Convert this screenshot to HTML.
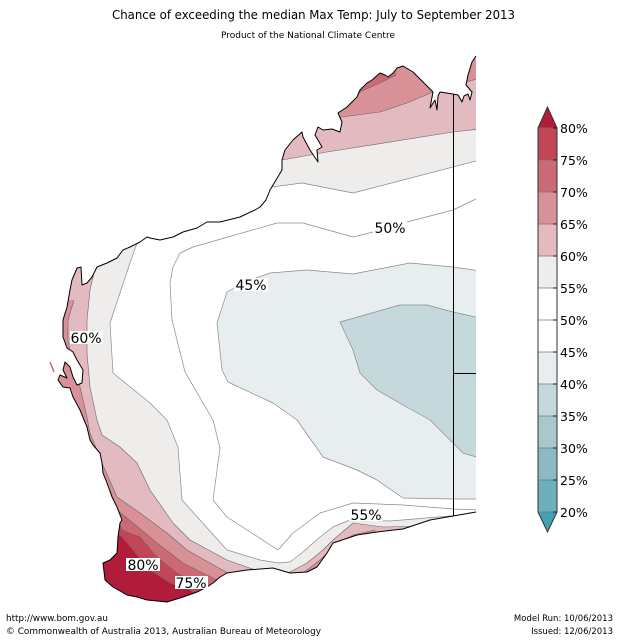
<!DOCTYPE html>
<html><head><meta charset="utf-8"><style>
html,body{margin:0;padding:0;background:#fff;}
svg{display:block;}
text{font-family:"DejaVu Sans","Liberation Sans",sans-serif;fill:#000;}
</style></head><body>
<svg width="619" height="640" viewBox="0 0 619 640" xmlns="http://www.w3.org/2000/svg">
<defs>
<clipPath id="land"><polygon points="476,56 472,62 468,75 466,85 472,92 470,100 468,94 464,96 462,102 458,95 453,94 440,92 438,96 437,110 435,100 430,108 433,92 423,82 413,72 403,66 397,68 393,73 388,77 385,75 380,73 372,80 367,83 360,90 357,97 352,102 347,107 338,113 342,122 340,132 332,129 323,130 318,127 315,135 322,147 317,150 318,162 310,150 303,137 302,132 293,140 285,150 282,160 282,170 276,180 270,190 266,200 260,207 255,210 240,217 220,222 207,222 197,228 183,232 173,237 160,240 150,238 147,237 140,242 130,247 123,250 117,258 107,263 97,267 92,277 87,283 82,285 81,267 77,268 72,280 70,290 67,307 63,320 63,337 67,348 73,352 77,360 83,370 82,383 77,385 73,377 70,367 65,362 63,370 67,378 60,375 58,380 63,387 70,388 73,397 80,410 87,427 90,440 93,445 100,453 102,463 103,473 107,483 112,497 117,507 122,520 120,523 118,537 117,553 110,560 103,563 105,580 113,587 127,595 137,597 147,600 167,602 183,597 197,592 207,587 213,583 220,577 227,573 247,570 273,568 290,573 307,572 317,567 327,553 333,543 357,535 377,532 403,529 430,520 453,516 476,512"/></clipPath>
</defs>

<g clip-path="url(#land)">
<rect x="0" y="0" width="476" height="640" fill="#ffffff"/>
<polygon fill="#eeedeb" points="262,188 272,187 302,183 353,193 480,160 480,40 262,40"/>
<polygon fill="#eeedeb" points="0,243 137,243 130,263 120,293 110,323 113,373 150,403 167,420 178,447 182,500 227,550 260,560 278,563 290,562 303,552 320,537 333,527 350,520 390,521 450,516 480,514 480,640 0,640"/>
<polygon fill="#e2babf" points="270,163 282,160 310,155 327,152 453,132 480,129 480,40 270,40"/>
<polygon fill="#e2babf" points="0,255 100,255 95,268 90,290 87,320 87,353 90,387 97,420 102,435 120,447 137,463 150,490 173,523 190,540 227,560 255,570 255,640 0,640"/>
<polygon fill="#e2babf" points="288,640 288,574 290,572 307,563 323,550 333,540 353,523 383,527 430,526 453,517 480,514 480,640"/>
<polygon fill="#d79197" points="335,118 342,117 380,112 407,103 433,92 450,88 463,83 480,78 480,40 335,40"/>
<polygon fill="#d79197" points="0,300 74,300 68,320 68,340 70,350 75,362 80,387 87,417 90,433 102,463 117,497 140,513 167,533 187,550 217,567 232,575 232,640 0,640"/>
<polygon fill="#d79197" points="300,640 300,574 303,573 320,560 333,547 353,535 375,530 385,545 385,640"/>
<polygon fill="#cb6a74" points="352,97 362,91 380,83 396,75 400,40 352,40"/>
<polygon fill="#cb6a74" points="0,490 110,490 117,510 133,523 157,543 183,563 203,573 217,580 225,585 225,640 0,640"/>
<polygon fill="#c34656" points="0,520 118,520 122,530 140,537 157,557 177,573 190,580 200,587 205,640 0,640"/>
<polygon fill="#b11c3a" points="0,535 119,535 122,537 133,550 150,570 170,583 190,590 197,595 200,640 0,640"/>
<polygon fill="#e8eef0" points="245,282 227,292 217,323 222,370 228,382 273,403 297,420 323,457 357,470 377,480 403,498 453,499 480,499 480,271 453,267 410,263 353,274 307,270 270,273"/>
<polygon fill="#c5d9dc" points="340,322 353,350 360,373 377,390 403,405 430,420 453,443 463,453 480,458 480,318 453,312 427,305 400,305"/>

<g fill="none" stroke-linejoin="round">
<g stroke="#8a8a8a" stroke-width="0.7">
<polyline points="480,510 453,509 403,505 353,503 320,513 293,533 278,550 227,517 213,500 220,448 213,420 185,372 172,320 170,283 173,267 180,253 193,247 277,223 303,223 353,237 373,232 407,222 453,210 480,197"/>
<polyline points="245,282 227,292 217,323 222,370 228,382 273,403 297,420 323,457 357,470 377,480 403,498 453,499 480,499"/>
<polyline points="245,282 270,273 307,270 353,274 410,263 453,267 480,271"/>
<polyline points="480,458 463,453 453,443 430,420 403,405 377,390 360,373 353,350 340,322 400,305 427,305 453,312 480,318"/>
<polyline points="262,188 272,187 302,183 353,193 480,160"/>
<polyline points="137,243 130,263 120,293 110,323 113,373 150,403 167,420 178,447 182,500 227,550 260,560 278,563 290,562 303,552 320,537 333,527 350,520 390,521 450,516 480,514"/>
</g>
<g stroke="#666" stroke-width="0.6">
<polyline points="270,163 282,160 310,155 327,152 453,132 480,129"/>
<polyline points="100,255 95,268 90,290 87,320 87,353 90,387 97,420 102,435 120,447 137,463 150,490 173,523 190,540 227,560 255,570"/>
<polyline points="288,574 290,572 307,563 323,550 333,540 353,523 383,527 430,526 453,517 480,514"/>
<polyline points="335,118 342,117 380,112 407,103 433,92 450,88 463,83 480,78"/>
<polyline points="74,300 68,320 68,340 70,350 75,362 80,387 87,417 90,433 102,463 117,497 140,513 167,533 187,550 217,567 232,575"/>
<polyline points="300,574 303,573 320,560 333,547 353,535 375,530"/>
<polyline points="352,97 362,91 380,83 396,75"/>
<polyline points="110,490 117,510 133,523 157,543 183,563 203,573 217,580 225,585"/>
<polyline points="118,520 122,530 140,537 157,557 177,573 190,580 200,587"/>
<polyline points="119,535 122,537 133,550 150,570 170,583 190,590 197,595"/>
</g>
</g>
</g>

<!-- coastline (open, no right-edge stroke) -->
<polyline fill="none" stroke="#000" stroke-width="1" stroke-linejoin="round" points="476,56 472,62 468,75 466,85 472,92 470,100 468,94 464,96 462,102 458,95 453,94 440,92 438,96 437,110 435,100 430,108 433,92 423,82 413,72 403,66 397,68 393,73 388,77 385,75 380,73 372,80 367,83 360,90 357,97 352,102 347,107 338,113 342,122 340,132 332,129 323,130 318,127 315,135 322,147 317,150 318,162 310,150 303,137 302,132 293,140 285,150 282,160 282,170 276,180 270,190 266,200 260,207 255,210 240,217 220,222 207,222 197,228 183,232 173,237 160,240 150,238 147,237 140,242 130,247 123,250 117,258 107,263 97,267 92,277 87,283 82,285 81,267 77,268 72,280 70,290 67,307 63,320 63,337 67,348 73,352 77,360 83,370 82,383 77,385 73,377 70,367 65,362 63,370 67,378 60,375 58,380 63,387 70,388 73,397 80,410 87,427 90,440 93,445 100,453 102,463 103,473 107,483 112,497 117,507 122,520 120,523 118,537 117,553 110,560 103,563 105,580 113,587 127,595 137,597 147,600 167,602 183,597 197,592 207,587 213,583 220,577 227,573 247,570 273,568 290,573 307,572 317,567 327,553 333,543 357,535 377,532 403,529 430,520 453,516 476,512"/>
<line x1="50" y1="362" x2="54" y2="372" stroke="#cb6a74" stroke-width="1.5"/>
<line x1="453.5" y1="94" x2="453.5" y2="516" stroke="#000" stroke-width="1"/>
<line x1="453" y1="373.5" x2="476" y2="373.5" stroke="#000" stroke-width="1"/>

<g font-size="14">
<rect x="373" y="221" width="34" height="13" fill="#fff"/><text x="390" y="233" text-anchor="middle">50%</text>
<rect x="234" y="278" width="34" height="13" fill="#fff"/><text x="251" y="290" text-anchor="middle">45%</text>
<rect x="70" y="331" width="33" height="13" fill="#fff"/><text x="86" y="343" text-anchor="middle">60%</text>
<rect x="126" y="558" width="34" height="13" fill="#fff"/><text x="143" y="570" text-anchor="middle">80%</text>
<rect x="175" y="576" width="33" height="13" fill="#fff"/><text x="191" y="588" text-anchor="middle">75%</text>
<rect x="349" y="508" width="34" height="13" fill="#fff"/><text x="366" y="520" text-anchor="middle">55%</text>
</g>

<g>
<polygon points="538,128 547.5,107 557,128" fill="#b11c3a"/>
<rect x="538" y="128" width="19" height="32" fill="#c34656"/>
<rect x="538" y="160" width="19" height="32" fill="#cb6a74"/>
<rect x="538" y="192" width="19" height="32" fill="#d79197"/>
<rect x="538" y="224" width="19" height="32" fill="#e2babf"/>
<rect x="538" y="256" width="19" height="32" fill="#eeedeb"/>
<rect x="538" y="288" width="19" height="32" fill="#ffffff"/>
<rect x="538" y="320" width="19" height="32" fill="#ffffff"/>
<rect x="538" y="352" width="19" height="32" fill="#e8eef0"/>
<rect x="538" y="384" width="19" height="32" fill="#c5d9dc"/>
<rect x="538" y="416" width="19" height="32" fill="#a8c8cc"/>
<rect x="538" y="448" width="19" height="32" fill="#8cb9c4"/>
<rect x="538" y="480" width="19" height="32" fill="#6cb0bd"/>
<polygon points="538,512 547.5,532 557,512" fill="#43a0b2"/>
<g stroke="#777" stroke-width="0.8">
<line x1="538" y1="128" x2="557" y2="128"/><line x1="538" y1="160" x2="557" y2="160"/><line x1="538" y1="192" x2="557" y2="192"/><line x1="538" y1="224" x2="557" y2="224"/><line x1="538" y1="256" x2="557" y2="256"/><line x1="538" y1="288" x2="557" y2="288"/><line x1="538" y1="320" x2="557" y2="320"/><line x1="538" y1="352" x2="557" y2="352"/><line x1="538" y1="384" x2="557" y2="384"/><line x1="538" y1="416" x2="557" y2="416"/><line x1="538" y1="448" x2="557" y2="448"/><line x1="538" y1="480" x2="557" y2="480"/><line x1="538" y1="512" x2="557" y2="512"/>
</g>
<g stroke="#000" stroke-width="0.8">
<line x1="553" y1="128" x2="557" y2="128"/><line x1="553" y1="160" x2="557" y2="160"/><line x1="553" y1="192" x2="557" y2="192"/><line x1="553" y1="224" x2="557" y2="224"/><line x1="553" y1="256" x2="557" y2="256"/><line x1="553" y1="288" x2="557" y2="288"/><line x1="553" y1="320" x2="557" y2="320"/><line x1="553" y1="352" x2="557" y2="352"/><line x1="553" y1="384" x2="557" y2="384"/><line x1="553" y1="416" x2="557" y2="416"/><line x1="553" y1="448" x2="557" y2="448"/><line x1="553" y1="480" x2="557" y2="480"/><line x1="553" y1="512" x2="557" y2="512"/>
</g>
<path d="M538,128 L547.5,107 L557,128 L557,512 L547.5,532 L538,512 Z" fill="none" stroke="#333" stroke-width="1"/>
<g font-size="12.5">
<text x="560" y="133">80%</text>
<text x="560" y="165">75%</text>
<text x="560" y="197">70%</text>
<text x="560" y="229">65%</text>
<text x="560" y="261">60%</text>
<text x="560" y="293">55%</text>
<text x="560" y="325">50%</text>
<text x="560" y="357">45%</text>
<text x="560" y="389">40%</text>
<text x="560" y="421">35%</text>
<text x="560" y="453">30%</text>
<text x="560" y="485">25%</text>
<text x="560" y="517">20%</text>
</g>
</g>

<text x="112" y="19" font-size="12" textLength="403" lengthAdjust="spacingAndGlyphs">Chance of exceeding the median Max Temp: July to September 2013</text>
<text x="221" y="38" font-size="8.5" textLength="174" lengthAdjust="spacingAndGlyphs">Product of the National Climate Centre</text>

<text x="6" y="621" font-size="8.5" textLength="102" lengthAdjust="spacingAndGlyphs">http://www.bom.gov.au</text>
<text x="6" y="634" font-size="8.5" textLength="315" lengthAdjust="spacingAndGlyphs">©  Commonwealth of Australia 2013, Australian Bureau of Meteorology</text>
<text x="613" y="621" font-size="8.5" text-anchor="end">Model Run: 10/06/2013</text>
<text x="613" y="634" font-size="8.5" text-anchor="end">Issued: 12/06/2013</text>
</svg>
</body></html>
